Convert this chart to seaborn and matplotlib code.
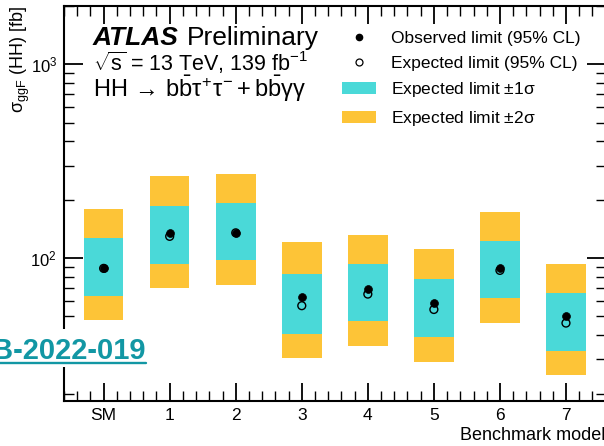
import numpy as np
import pandas as pd
import seaborn as sns
import matplotlib
matplotlib.use("Agg")
import matplotlib.pyplot as plt
from matplotlib.lines import Line2D
from matplotlib.patches import Patch, Rectangle
from matplotlib.ticker import MultipleLocator, LogLocator, NullFormatter

# Benchmark models and cross-section limits [fb]
categories = ["SM", "1", "2", "3", "4", "5", "6", "7"]
observed = [88.5, 135.3, 135.0, 62.9, 69.2, 58.6, 88.8, 50.4]
expected = [88.5, 129.5, 135.0, 56.8, 65.2, 54.3, 86.4, 46.2]
exp_plus1 = [126.9, 186.4, 192.2, 82.4, 93.6, 77.6, 123.0, 65.8]
exp_minus1 = [64.0, 93.6, 97.3, 40.8, 47.1, 39.1, 62.2, 33.1]
exp_plus2 = [178.4, 264.0, 272.8, 120.5, 132.1, 111.8, 173.6, 93.1]
exp_minus2 = [47.9, 70.0, 72.6, 30.6, 35.3, 29.2, 46.4, 24.8]

CYAN = "#4ad9d8"
YELLOW = "#fdc437"
TEAL = "#1297a4"

df = pd.DataFrame({
    "pos": np.arange(len(categories)),
    "model": categories,
    "obs": observed,
    "exp": expected,
    "p1": exp_plus1, "m1": exp_minus1,
    "p2": exp_plus2, "m2": exp_minus2,
})

sns.set_theme(style="ticks", rc={
    "axes.edgecolor": "black", "xtick.color": "black", "ytick.color": "black",
    "text.color": "black", "axes.labelcolor": "black",
})
plt.rcParams["font.family"] = ["Liberation Sans", "DejaVu Sans"]
plt.rcParams.update({
    "mathtext.fontset": "custom",
    "mathtext.rm": "Liberation Sans",
    "mathtext.it": "Liberation Sans",
    "mathtext.sf": "Liberation Sans",
    "mathtext.bf": "Liberation Sans:bold",
})

W, H = 604, 446
fig = plt.figure(figsize=(W / 100, H / 100), dpi=100)
ax = fig.add_axes([64 / W, 1 - 401 / H, (605.6 - 64) / W, (401 - 6) / H])


def px(x, y):
    return x / W, 1 - y / H


# +-2 sigma and +-1 sigma bands
ax.bar(df["pos"], df["p2"] - df["m2"], bottom=df["m2"], width=0.6,
       color=YELLOW, linewidth=0, zorder=1)
ax.bar(df["pos"], df["p1"] - df["m1"], bottom=df["m1"], width=0.6,
       color=CYAN, linewidth=0, zorder=2)

# expected (open) and observed (filled) limits
sns.scatterplot(data=df, x="pos", y="exp", ax=ax, marker="o", s=32,
                facecolor="none", edgecolor="black", linewidth=1.0, zorder=3)
sns.scatterplot(data=df, x="pos", y="obs", ax=ax, marker="o", s=32,
                color="black", edgecolor="black", linewidth=0.5, zorder=4)

ax.set_yscale("log")
ax.set_xlim(-0.6, 7.6)
ax.set_ylim(18.3, 2000)
ax.set_xticks(df["pos"])
ax.set_xticklabels(categories)
ax.xaxis.set_minor_locator(MultipleLocator(0.2))
ax.yaxis.set_minor_locator(LogLocator(base=10, subs=np.arange(2, 10)))
ax.yaxis.set_minor_formatter(NullFormatter())

for s in ax.spines.values():
    s.set_linewidth(1.5)
    s.set_visible(True)

ax.tick_params(axis="both", which="both", direction="in", top=True, right=True)
ax.tick_params(axis="x", which="major", length=13, width=1.3, pad=5, labelsize=12.5)
ax.tick_params(axis="x", which="minor", length=7, width=1.0)
ax.tick_params(axis="y", which="major", length=14, width=1.3, pad=5, labelsize=12)
ax.tick_params(axis="y", which="minor", length=7.5, width=1.0)

ax.set_xlabel("Benchmark model", loc="right", fontsize=13)
ax.xaxis.set_label_coords(1.0, -0.066)
ax.set_ylabel(r"$\sigma_{\mathrm{ggF}}$ (HH) [fb]", loc="top", fontsize=13)
ax.yaxis.set_label_coords(-0.060, 1.0)

# experiment labels
fig.text(*px(92.7, 45), "ATLAS", fontsize=19, fontweight="bold",
         fontstyle="italic", va="baseline")
fig.text(*px(187.3, 45), "Preliminary", fontsize=19, va="baseline")
fig.text(*px(92.7, 71), r"$\sqrt{s}$ = 13 TeV, 139 fb$^{-1}$", fontsize=15.5,
         va="baseline")
fig.text(*px(92.7, 97.3),
         r"HH$\,\rightarrow\,\mathrm{b\bar{b}}\tau^{+}\tau^{-}+\mathrm{b\bar{b}}\gamma\gamma$",
         fontsize=17, va="baseline")

handles = [
    Line2D([], [], marker="o", ls="none", color="black", markersize=4.5),
    Line2D([], [], marker="o", ls="none", mfc="none", mec="black",
           markersize=5, mew=0.9),
    Patch(fc=CYAN, ec="none"),
    Patch(fc=YELLOW, ec="none"),
]
labels = ["Observed limit (95% CL)", "Expected limit (95% CL)",
          r"Expected limit $\pm1\sigma$", r"Expected limit $\pm2\sigma$"]
ax.legend(handles, labels, loc="upper left", bbox_to_anchor=px(341.7, 31),
          bbox_transform=fig.transFigure, frameon=False, fontsize=12.5,
          borderpad=0, borderaxespad=0, handlelength=2.0, handleheight=0.7,
          handletextpad=0.82, labelspacing=0.55)

# document reference link
fig.add_artist(Rectangle(px(0, 367), 150 / W, 38 / H, transform=fig.transFigure,
                         fc="white", ec="none", zorder=5))
fig.text(*px(146, 359), "B-2022-019", ha="right", va="baseline", fontsize=21,
         fontweight="bold", color=TEAL, zorder=6)
fig.add_artist(Line2D([0, 146 / W], [1 - 362.7 / H] * 2, transform=fig.transFigure,
                      color=TEAL, lw=1.7, zorder=6))

fig.savefig("out.png", dpi=100)
